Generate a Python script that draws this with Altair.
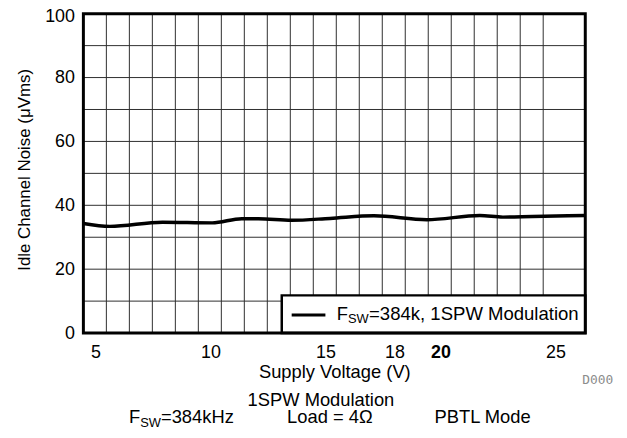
import altair as alt
import pandas as pd

# ---- data ----
volts = [4.47, 5.62, 7.91, 10.07, 11.36, 12.08, 13.52, 15.2, 17.11, 19.41, 21.71, 22.72, 24.0, 26.3]
noise = [34.3, 33.4, 34.7, 34.5, 35.8, 35.8, 35.3, 35.9, 36.7, 35.5, 36.8, 36.3, 36.5, 36.8]
x_grid = [5.47, 6.47, 7.47, 8.47, 9.47, 10.47, 11.47, 12.47, 13.47, 14.47,
          15.47, 16.47, 17.47, 18.47, 19.47, 20.47, 21.47, 22.47, 23.47, 24.47]
y_grid = [10, 20, 30, 40, 50, 60, 70, 80, 90]
x_ticks = [5, 10, 15, 18, 20, 25]
y_ticks = [0, 20, 40, 60, 80, 100]
x_domain = [4.47, 26.3]
y_domain = [0, 100]

FONT = "Liberation Sans"
W, H = 506, 322

xs = alt.Scale(domain=x_domain, nice=False, zero=False)
ys = alt.Scale(domain=y_domain, nice=False, zero=False)

x_axis = alt.Axis(
    values=x_ticks, grid=False, ticks=False, domain=False, title=None,
    labelFont=FONT, labelFontSize=18, labelColor="black", labelPadding=11,
    labelOverlap=False, labelFlush=False,
    labelFontWeight={"condition": {"test": "datum.value == 20", "value": "bold"}, "value": "normal"},
)
y_axis = alt.Axis(
    values=y_ticks, grid=False, ticks=False, domain=False, title=None,
    labelFont=FONT, labelFontSize=18, labelColor="black", labelPadding=9,
    labelOverlap=False, labelFlush=False,
    labelOffset={"condition": {"test": "datum.value == 100", "value": 3}, "value": 0},
)

line_df = pd.DataFrame({"v": volts, "n": noise})

vgrid = alt.Chart(pd.DataFrame({"g": x_grid})).mark_rule(color="#2e2e2e", strokeWidth=1).encode(
    x=alt.X("g:Q", scale=xs, axis=x_axis)
)
hgrid = alt.Chart(pd.DataFrame({"g": y_grid})).mark_rule(color="#2e2e2e", strokeWidth=1).encode(
    y=alt.Y("g:Q", scale=ys, axis=y_axis)
)

line = alt.Chart(line_df).mark_line(color="black", strokeWidth=3.5, interpolate="monotone").encode(
    x=alt.X("v:Q", scale=xs, axis=x_axis),
    y=alt.Y("n:Q", scale=ys, axis=y_axis),
)


def one():
    return pd.DataFrame({"t": [""]})


def txt(s, x, y, size, align="left", baseline="alphabetic", color="black", font=FONT, angle=None, weight="normal"):
    kw = dict(align=align, baseline=baseline, color=color, font=font, fontSize=size, fontWeight=weight)
    if angle is not None:
        kw["angle"] = angle
    return alt.Chart(pd.DataFrame({"t": [s]})).mark_text(**kw).encode(
        text="t:N", x=alt.value(x), y=alt.value(y)
    )


legend_box = alt.Chart(one()).mark_rect(fill="white", stroke="black", strokeWidth=2.5).encode(
    x=alt.value(200), x2=alt.value(506), y=alt.value(284), y2=alt.value(322)
)
legend_line = alt.Chart(one()).mark_rule(color="black", strokeWidth=3).encode(
    x=alt.value(210), x2=alt.value(244), y=alt.value(303.7)
)
border = alt.Chart(one()).mark_rect(fillOpacity=0, stroke="black", strokeWidth=3).encode(
    x=alt.value(0), x2=alt.value(W), y=alt.value(0), y2=alt.value(H)
)

layers = [
    vgrid, hgrid, line, legend_box, legend_line, border,
    # legend text
    txt("F", 255.5, 309, 18.5),
    txt("SW", 266.8, 312.3, 13),
    txt("=384k, 1SPW Modulation", 288, 309, 18.7),
    # y title
    txt("Idle Channel Noise (\u03bcVms)", -59, 157.5, 17, align="center", baseline="middle", angle=270),
    # x title
    txt("Supply Voltage (V)", 253.5, 367, 18.5, align="center"),
    txt("D000", 518.5, 373.5, 13, align="center", color="#8c8c8c", font="DejaVu Sans Mono"),
    # conditions
    txt("1SPW Modulation", 239.5, 395.3, 18.5, align="center"),
    txt("F", 46, 413, 18.5),
    txt("SW", 57.3, 416.3, 13),
    txt("=384kHz", 78.2, 413, 18.5),
    txt("Load = 4\u03a9", 248.5, 413, 18.5, align="center"),
    txt("PBTL Mode", 402.5, 413, 18.5, align="center"),
]

chart = alt.layer(*layers).properties(
    width=W, height=H,
    padding={"left": 76, "top": 4, "right": 34, "bottom": 94},
    autosize=alt.AutoSizeParams(type="none"),
).configure_view(
    stroke=None
).configure(background="white")

chart.save("out.html", embed_options={"renderer": "svg", "actions": False})
